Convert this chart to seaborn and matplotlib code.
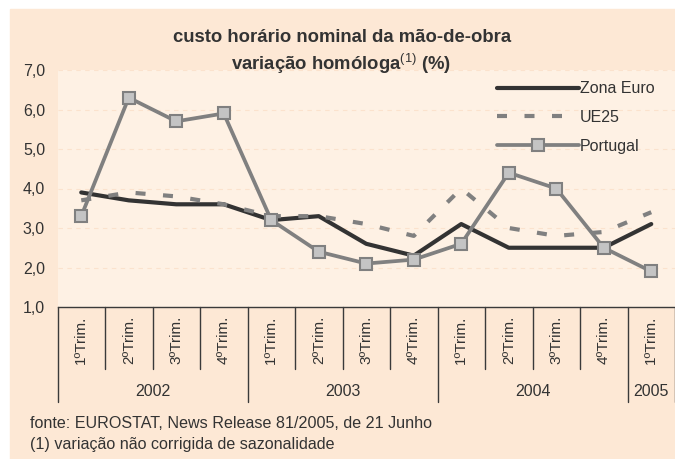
import matplotlib
matplotlib.use("Agg")
import matplotlib.pyplot as plt
import seaborn as sns
from matplotlib.patches import Rectangle

# data
quarters = ["1ºTrim.", "2ºTrim.", "3ºTrim.", "4ºTrim.",
            "1ºTrim.", "2ºTrim.", "3ºTrim.", "4ºTrim.",
            "1ºTrim.", "2ºTrim.", "3ºTrim.", "4ºTrim.",
            "1ºTrim."]
years = ["2002", "2003", "2004", "2005"]
year_quarters = [4, 4, 4, 1]
zona_euro = [3.9, 3.7, 3.6, 3.6, 3.2, 3.3, 2.6, 2.3, 3.1, 2.5, 2.5, 2.5, 3.1]
ue25 = [3.7, 3.9, 3.8, 3.6, 3.3, 3.3, 3.1, 2.8, 4.0, 3.0, 2.8, 2.9, 3.4]
portugal = [3.3, 6.3, 5.7, 5.9, 3.2, 2.4, 2.1, 2.2, 2.6, 4.4, 4.0, 2.5, 1.9]

sns.set_style("white")
plt.rcParams["font.family"] = ["Liberation Sans", "DejaVu Sans"]
plt.rcParams["mathtext.fontset"] = "custom"
plt.rcParams["mathtext.rm"] = "Liberation Sans"

TXT = "#333333"
OUTER = "#FDE8D5"
INNER = "#FEF1E4"

fig = plt.figure(figsize=(6.75, 4.59), dpi=100)
fig.patch.set_facecolor("white")
fig.patches.append(Rectangle((10 / 675, 0), 665 / 675, 450 / 459,
                             transform=fig.transFigure, color=OUTER,
                             zorder=-5))

ax = fig.add_axes([57.5 / 675, 152 / 459, 617.5 / 675, 237 / 459])
ax.set_facecolor(INNER)

pos = list(range(len(quarters)))
sns.lineplot(x=pos, y=zona_euro, ax=ax, color="#333333", lw=3.0,
             label="Zona Euro", solid_capstyle="round", zorder=3)
sns.lineplot(x=pos, y=ue25, ax=ax, color="#808080", lw=3.0,
             linestyle=(0, (2.4, 4.2)), dash_capstyle="butt",
             label="UE25", zorder=4)
sns.lineplot(x=pos, y=portugal, ax=ax, color="#808080", lw=2.7,
             marker="s", markersize=8, markerfacecolor="#C4C4C4",
             markeredgecolor="#808080", markeredgewidth=1.5,
             label="Portugal", solid_capstyle="round", zorder=5)

ax.set_xlim(-0.5, len(quarters) - 0.5)
ax.set_ylim(1, 7)
ax.set_yticks(range(1, 8))
ax.set_yticklabels([f"{v},0" for v in range(1, 8)], fontsize=11.5, color=TXT)
ax.set_xticks([])
ax.tick_params(axis="y", length=0, pad=9)
ax.set_xlabel("")
ax.set_ylabel("")
ax.grid(axis="y", color="#FBE2CD", linestyle=(0, (4, 4)), lw=0.8)
ax.set_axisbelow(True)
for side in ["left", "right", "top"]:
    ax.spines[side].set_visible(False)
ax.spines["bottom"].set_color("#3a3a3a")
ax.spines["bottom"].set_linewidth(1.0)

# category table below the axis
xt = ax.get_xaxis_transform()
q_depth = -62 / 237
y_depth = -95 / 237
bounds = [-0.5]
for n in year_quarters:
    bounds.append(bounds[-1] + n)
for k in range(len(quarters) + 1):
    x = k - 0.5
    low = y_depth if x in bounds else q_depth
    ax.plot([x, x], [0, low], transform=xt, color="#3a3a3a", lw=1.0,
            clip_on=False)
for i, q in enumerate(quarters):
    ax.text(i, -33 / 237, q, transform=xt, rotation=90, ha="center",
            va="center", fontsize=11, color=TXT)
for j, yr in enumerate(years):
    mid = (bounds[j] + bounds[j + 1]) / 2
    ax.text(mid, -85 / 237, yr, transform=xt, ha="center", va="center",
            fontsize=11.5, color=TXT)

leg = ax.legend(loc="upper left", bbox_to_anchor=(0.712, 0.952),
                frameon=False, fontsize=11.5, handlelength=5.1,
                handletextpad=0.1, labelspacing=0.85, borderpad=0,
                borderaxespad=0)
for t in leg.get_texts():
    t.set_color(TXT)

# titles
fig.text(342 / 675, 1 - 41.5 / 459, "custo horário nominal da mão-de-obra",
         ha="center", va="baseline", fontsize=13.3, fontweight="bold",
         color=TXT)
fig.text(341 / 675, 1 - 69.5 / 459,
         "variação homóloga$^{\\mathrm{(1)}}$ (%)",
         ha="center", va="baseline", fontsize=13.3, fontweight="bold",
         color=TXT)

# notes
fig.text(30 / 675, 1 - 423 / 459,
         "fonte: EUROSTAT, News Release 81/2005, de 21 Junho",
         ha="left", va="center", fontsize=11.6, color=TXT)
fig.text(30 / 675, 1 - 445 / 459,
         "(1) variação não corrigida de sazonalidade",
         ha="left", va="center", fontsize=11.6, color=TXT)

fig.savefig("out.png", dpi=100, facecolor=fig.get_facecolor())
